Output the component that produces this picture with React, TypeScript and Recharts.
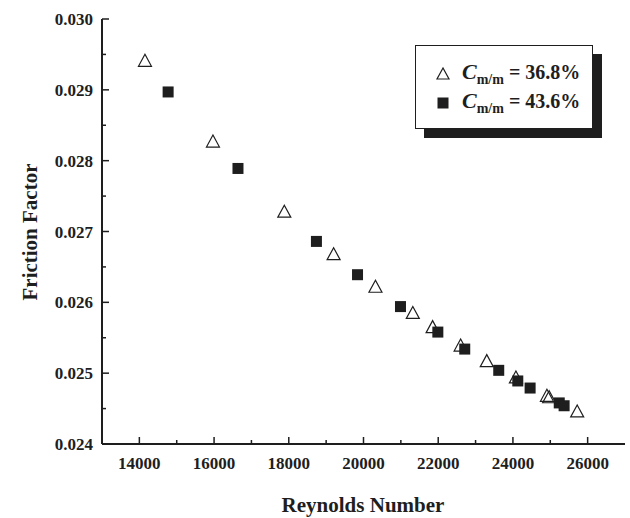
import React from "react";
import { ScatterChart, Scatter, XAxis, YAxis, Legend } from "recharts";

// Reynolds number / friction factor for the two concentrations
const reA = [14150, 15970, 17880, 19200, 20320, 21320, 21850, 22600, 23300, 24080, 24910, 24970, 25720];
const fA = [0.02941, 0.02827, 0.02728, 0.02668, 0.02622, 0.02585, 0.02565, 0.02539, 0.02517, 0.02494, 0.02468, 0.02466, 0.02446];
const reB = [14770, 16640, 18740, 19840, 20990, 21990, 22710, 23620, 24130, 24460, 25240, 25370];
const fB = [0.02897, 0.02789, 0.02686, 0.02639, 0.02594, 0.02558, 0.02534, 0.02504, 0.02489, 0.02479, 0.02458, 0.02454];

const xMajorTicks = [14000, 16000, 18000, 20000, 22000, 24000, 26000];
const xMinorTicks = [15000, 17000, 19000, 21000, 23000, 25000];
const yMajorTicks = [0.024, 0.025, 0.026, 0.027, 0.028, 0.029, 0.03];
const yMinorTicks = [0.0245, 0.0255, 0.0265, 0.0275, 0.0285, 0.0295];

const seriesA = reA.map((re, i) => ({ re, f: fA[i] }));
const seriesB = reB.map((re, i) => ({ re, f: fB[i] }));

const FONT = "'Liberation Serif', 'Times New Roman', serif";
const INK = "#1e1e1e";

const isMajor = (list: number[], v: number) => list.some((t) => Math.abs(t - v) < 1e-9);

const BottomTick = (props: any) => {
  const { x, y, payload } = props;
  const major = isMajor(xMajorTicks, payload.value);
  return (
    <g>
      <line x1={x} x2={x} y1={y} y2={y - (major ? 7 : 4)} stroke={INK} strokeWidth={1.5} />
      {major && (
        <text x={x} y={y + 25} textAnchor="middle" fontFamily={FONT} fontWeight="bold" fontSize={17} fill={INK}>
          {payload.value}
        </text>
      )}
    </g>
  );
};

const TopTick = (props: any) => {
  const { x, y, payload } = props;
  const major = isMajor(xMajorTicks, payload.value);
  return <line x1={x} x2={x} y1={y} y2={y + (major ? 7 : 4)} stroke={INK} strokeWidth={1.5} />;
};

const LeftTick = (props: any) => {
  const { x, y, payload } = props;
  const major = isMajor(yMajorTicks, payload.value);
  return (
    <g>
      <line x1={x} x2={x + (major ? 7 : 4)} y1={y} y2={y} stroke={INK} strokeWidth={1.5} />
      {major && (
        <text x={x - 9} y={y + 6} textAnchor="end" fontFamily={FONT} fontWeight="bold" fontSize={17} fill={INK}>
          {payload.value.toFixed(3)}
        </text>
      )}
    </g>
  );
};

const RightTick = (props: any) => {
  const { x, y, payload } = props;
  const major = isMajor(yMajorTicks, payload.value);
  return <line x1={x} x2={x - (major ? 7 : 4)} y1={y} y2={y} stroke={INK} strokeWidth={1.5} />;
};

const Triangle = (props: any) => {
  const { cx, cy } = props;
  if (cx == null || cy == null) return null;
  return (
    <polygon
      points={`${cx},${cy - 6.5} ${cx - 6.5},${cy + 5.5} ${cx + 6.5},${cy + 5.5}`}
      fill="none"
      stroke={INK}
      strokeWidth={1.2}
    />
  );
};

const Square = (props: any) => {
  const { cx, cy } = props;
  if (cx == null || cy == null) return null;
  return <rect x={cx - 5.5} y={cy - 5.5} width={11} height={11} fill={INK} />;
};

const LegendLabel = ({ value }: { value: string }) => (
  <span style={{ fontFamily: FONT, fontWeight: "bold", color: INK, whiteSpace: "nowrap" }}>
    <span style={{ fontStyle: "italic", fontSize: 22 }}>C</span>
    <span style={{ fontSize: 14, position: "relative", top: 5 }}>m/m</span>
    <span style={{ fontSize: 20 }}> = {value}</span>
  </span>
);

const LegendBox = () => (
  <div
    style={{
      position: "relative",
      width: 176,
      height: 82,
      border: `1.5px solid ${INK}`,
      background: "#fff",
      boxShadow: `9px 9px 0 ${INK}`,
    }}
  >
    <svg style={{ position: "absolute", left: 20, top: 21 }} width={14} height={14}>
      <polygon points="7,1 1,12 13,12" fill="none" stroke={INK} strokeWidth={1.2} />
    </svg>
    <div style={{ position: "absolute", left: 46, top: 13 }}>
      <LegendLabel value="36.8%" />
    </div>
    <svg style={{ position: "absolute", left: 21, top: 51 }} width={12} height={12}>
      <rect x={0.5} y={0.5} width={11} height={11} fill={INK} />
    </svg>
    <div style={{ position: "absolute", left: 46, top: 42 }}>
      <LegendLabel value="43.6%" />
    </div>
  </div>
);

export default function App() {
  return (
    <div style={{ position: "absolute", left: 0, top: 0, width: 630, height: 518, background: "#fff" }}>
      <ScatterChart width={630} height={518} margin={{ top: 19, right: 5, bottom: 0, left: 0 }}>
        <XAxis
          dataKey="re"
          type="number"
          domain={[13000, 27000]}
          ticks={[...xMajorTicks, ...xMinorTicks].sort((a, b) => a - b)}
          interval={0}
          height={74}
          tickSize={0}
          tickMargin={0}
          tick={<BottomTick />}
          axisLine={{ stroke: INK, strokeWidth: 2 }}
          label={{
            content: () => (
              <text x={363} y={512} textAnchor="middle" fontFamily={FONT} fontWeight="bold" fontSize={21} fill={INK}>
                Reynolds Number
              </text>
            ),
          }}
        />
        <XAxis
          xAxisId="top"
          orientation="top"
          type="number"
          domain={[13000, 27000]}
          ticks={[...xMajorTicks, ...xMinorTicks].sort((a, b) => a - b)}
          interval={0}
          height={0}
          tickSize={0}
          tickMargin={0}
          tick={<TopTick />}
          axisLine={{ stroke: INK, strokeWidth: 2 }}
        />
        <YAxis
          dataKey="f"
          type="number"
          domain={[0.024, 0.03]}
          ticks={[...yMajorTicks, ...yMinorTicks].sort((a, b) => a - b)}
          interval={0}
          width={102}
          tickSize={0}
          tickMargin={0}
          tick={<LeftTick />}
          axisLine={{ stroke: INK, strokeWidth: 2 }}
          label={{
            content: () => (
              <text
                x={30}
                y={232}
                transform="rotate(-90, 30, 232)"
                textAnchor="middle"
                dominantBaseline="central"
                fontFamily={FONT}
                fontWeight="bold"
                fontSize={21}
                fill={INK}
              >
                Friction Factor
              </text>
            ),
          }}
        />
        <YAxis
          yAxisId="right"
          orientation="right"
          type="number"
          domain={[0.024, 0.03]}
          ticks={[...yMajorTicks, ...yMinorTicks].sort((a, b) => a - b)}
          interval={0}
          width={0}
          tickSize={0}
          tickMargin={0}
          tick={<RightTick />}
          axisLine={{ stroke: INK, strokeWidth: 2 }}
        />
        <Legend
          layout="horizontal"
          verticalAlign="middle"
          align="center"
          wrapperStyle={{ position: "absolute", left: 415, top: 45, width: 180, height: 90 }}
          content={() => <LegendBox />}
        />
        <Scatter name="36.8%" data={seriesA} shape={<Triangle />} isAnimationActive={false} />
        <Scatter name="43.6%" data={seriesB} shape={<Square />} isAnimationActive={false} />
      </ScatterChart>
    </div>
  );
}
